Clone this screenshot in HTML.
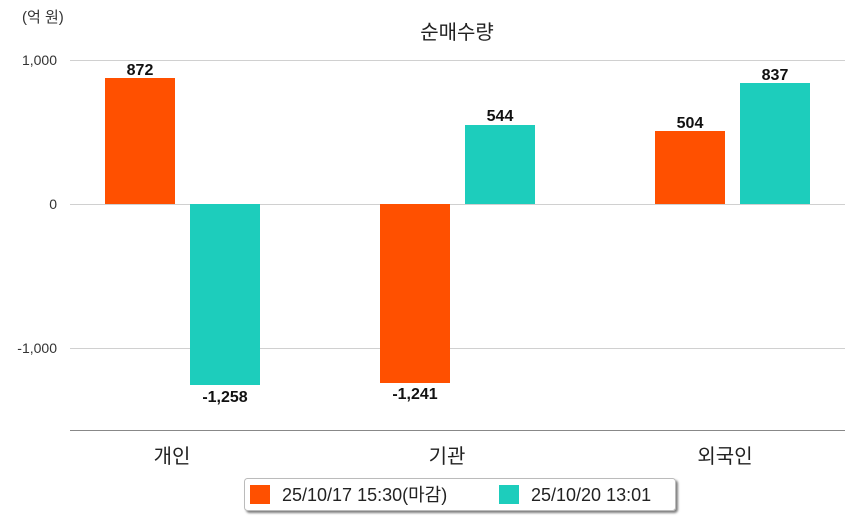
<!DOCTYPE html>
<html><head><meta charset="utf-8"><style>
html,body{margin:0;padding:0;background:#fff;}
svg{display:block;font-family:"Liberation Sans","Noto Sans CJK KR",sans-serif;}
</style></head><body>
<svg width="854" height="520" viewBox="0 0 854 520">
<defs><filter id="sh" x="-5%" y="-20%" width="110%" height="160%"><feDropShadow dx="2" dy="2" stdDeviation="1" flood-color="#000" flood-opacity="0.5"/></filter></defs>
<text x="22" y="22" font-size="15" fill="#333">(억 원)</text>
<text x="457" y="39" font-size="20" fill="#222" text-anchor="middle">순매수량</text>
<g stroke="#d0d0d0" stroke-width="1">
<line x1="70" y1="60.5" x2="845" y2="60.5"/>
<line x1="70" y1="204.5" x2="845" y2="204.5"/>
<line x1="70" y1="348.5" x2="845" y2="348.5"/>
</g>
<line x1="70" y1="430.5" x2="845" y2="430.5" stroke="#888" stroke-width="1"/>
<g font-size="14" fill="#333" text-anchor="end">
<text x="57" y="65">1,000</text>
<text x="57" y="209">0</text>
<text x="57" y="353">-1,000</text>
</g>
<rect x="105" y="78" width="70" height="126" fill="#FF5000"/>
<rect x="190" y="204" width="70" height="181" fill="#1DCDBC"/>
<rect x="380" y="204" width="70" height="179" fill="#FF5000"/>
<rect x="465" y="125" width="70" height="79" fill="#1DCDBC"/>
<rect x="655" y="131" width="70" height="73" fill="#FF5000"/>
<rect x="740" y="83" width="70" height="121" fill="#1DCDBC"/>
<g font-size="16" font-weight="bold" fill="#111" text-anchor="middle">
<text x="140" y="75">872</text>
<text x="225" y="402">-1,258</text>
<text x="415" y="399">-1,241</text>
<text x="500" y="121">544</text>
<text x="690" y="128">504</text>
<text x="775" y="80">837</text>
</g>
<g font-size="20" fill="#222" text-anchor="middle">
<text x="172" y="463">개인</text>
<text x="447" y="463">기관</text>
<text x="725" y="463">외국인</text>
</g>
<rect x="244.5" y="478.5" width="431" height="32" rx="3" fill="#fff" stroke="#bbb" filter="url(#sh)"/>
<rect x="250" y="485" width="20" height="19" fill="#FF5000"/>
<text x="282" y="501" font-size="18" fill="#222">25/10/17 15:30(마감)</text>
<rect x="499" y="485" width="20" height="19" fill="#1DCDBC"/>
<text x="531" y="501" font-size="18" fill="#222">25/10/20 13:01</text>
</svg>
</body></html>
